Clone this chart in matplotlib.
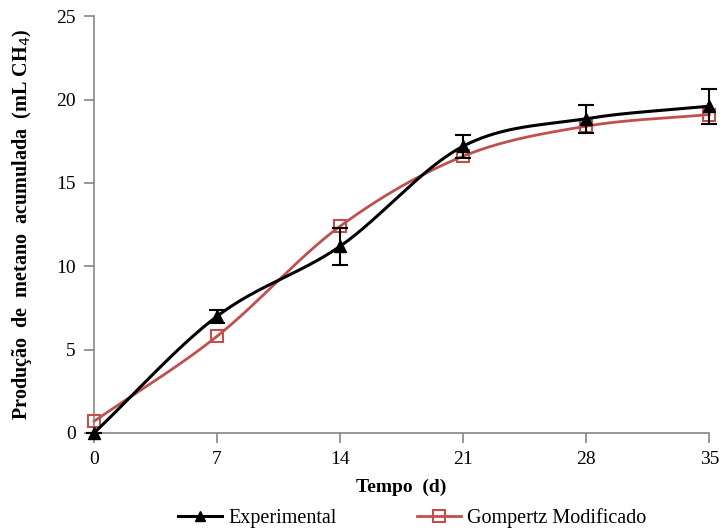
import numpy as np
import matplotlib.pyplot as plt
from matplotlib.lines import Line2D

plt.rcParams['font.family'] = ['Liberation Serif', 'DejaVu Serif']

# dados
tempo = [0, 7, 14, 21, 28, 35]
experimental = [0.0, 7.0, 11.2, 17.2, 18.85, 19.6]
erro_exp = [0.0, 0.4, 1.1, 0.7, 0.85, 1.05]
gompertz = [0.7, 5.8, 12.4, 16.6, 18.4, 19.1]

red = '#C0504D'


def suave(x, y, n=40):
    # curva suavizada tipo Excel (Catmull-Rom)
    x = np.asarray(x, float)
    y = np.asarray(y, float)
    px = np.concatenate([[2 * x[0] - x[1]], x, [2 * x[-1] - x[-2]]])
    py = np.concatenate([[2 * y[0] - y[1]], y, [2 * y[-1] - y[-2]]])
    xs, ys = [], []
    t = np.linspace(0, 1, n)
    for i in range(1, len(px) - 2):
        for p, out in ((px, xs), (py, ys)):
            p0, p1, p2, p3 = p[i - 1], p[i], p[i + 1], p[i + 2]
            b1 = p1 + (p2 - p0) / 6
            b2 = p2 - (p3 - p1) / 6
            out.extend((1 - t) ** 3 * p1 + 3 * (1 - t) ** 2 * t * b1
                       + 3 * (1 - t) * t ** 2 * b2 + t ** 3 * p2)
    return xs, ys


fig = plt.figure(figsize=(7.23, 5.31), dpi=100)
ax = fig.add_axes([0.130, 0.1846, 0.851, 0.785])

xg, yg = suave(tempo, gompertz)
ax.plot(xg, yg, color=red, lw=2, zorder=2, clip_on=False)
ax.plot(tempo, gompertz, ls='none', marker='s', ms=9, mfc='none',
        mec=red, mew=1.5, zorder=3, clip_on=False)

xe, ye = suave(tempo, experimental)
ax.plot(xe, ye, color='black', lw=2.2, zorder=4, clip_on=False)
eb = ax.errorbar(tempo, experimental, yerr=erro_exp, fmt='^', color='black',
                 ms=8, capsize=6, elinewidth=1.5, capthick=1.5, zorder=5)
for art in eb.get_children():
    art.set_clip_on(False)

ax.set_xlim(0, 35)
ax.set_ylim(0, 25)
ax.set_xticks(tempo)
ax.set_yticks([0, 5, 10, 15, 20, 25])
for s in ['top', 'right']:
    ax.spines[s].set_visible(False)
for s in ['left', 'bottom']:
    ax.spines[s].set_color('#868686')
    ax.spines[s].set_linewidth(1.2)
ax.tick_params(direction='out', length=7, width=1.2, color='#868686',
               labelsize=14, pad=6)

ax.set_xlabel('Tempo  (d)', fontsize=14, fontweight='bold', labelpad=8)
ax.set_ylabel('Produção  de  metano  acumulada  (mL CH$_4$)', fontsize=14.5,
              fontweight='bold', labelpad=16)

h1 = Line2D([], [], color='black', lw=2.2, marker='^', ms=7)
h2 = Line2D([], [], color=red, lw=2, marker='s', ms=8, mfc='none', mew=1.5)
fig.legend([h1, h2], ['Experimental', 'Gompertz Modificado'], loc='center',
           bbox_to_anchor=(0.57, 0.025), ncol=2, frameon=False, fontsize=14.5,
           columnspacing=4, handlelength=2.2, handletextpad=0.3)

fig.savefig('out.png', dpi=100)
